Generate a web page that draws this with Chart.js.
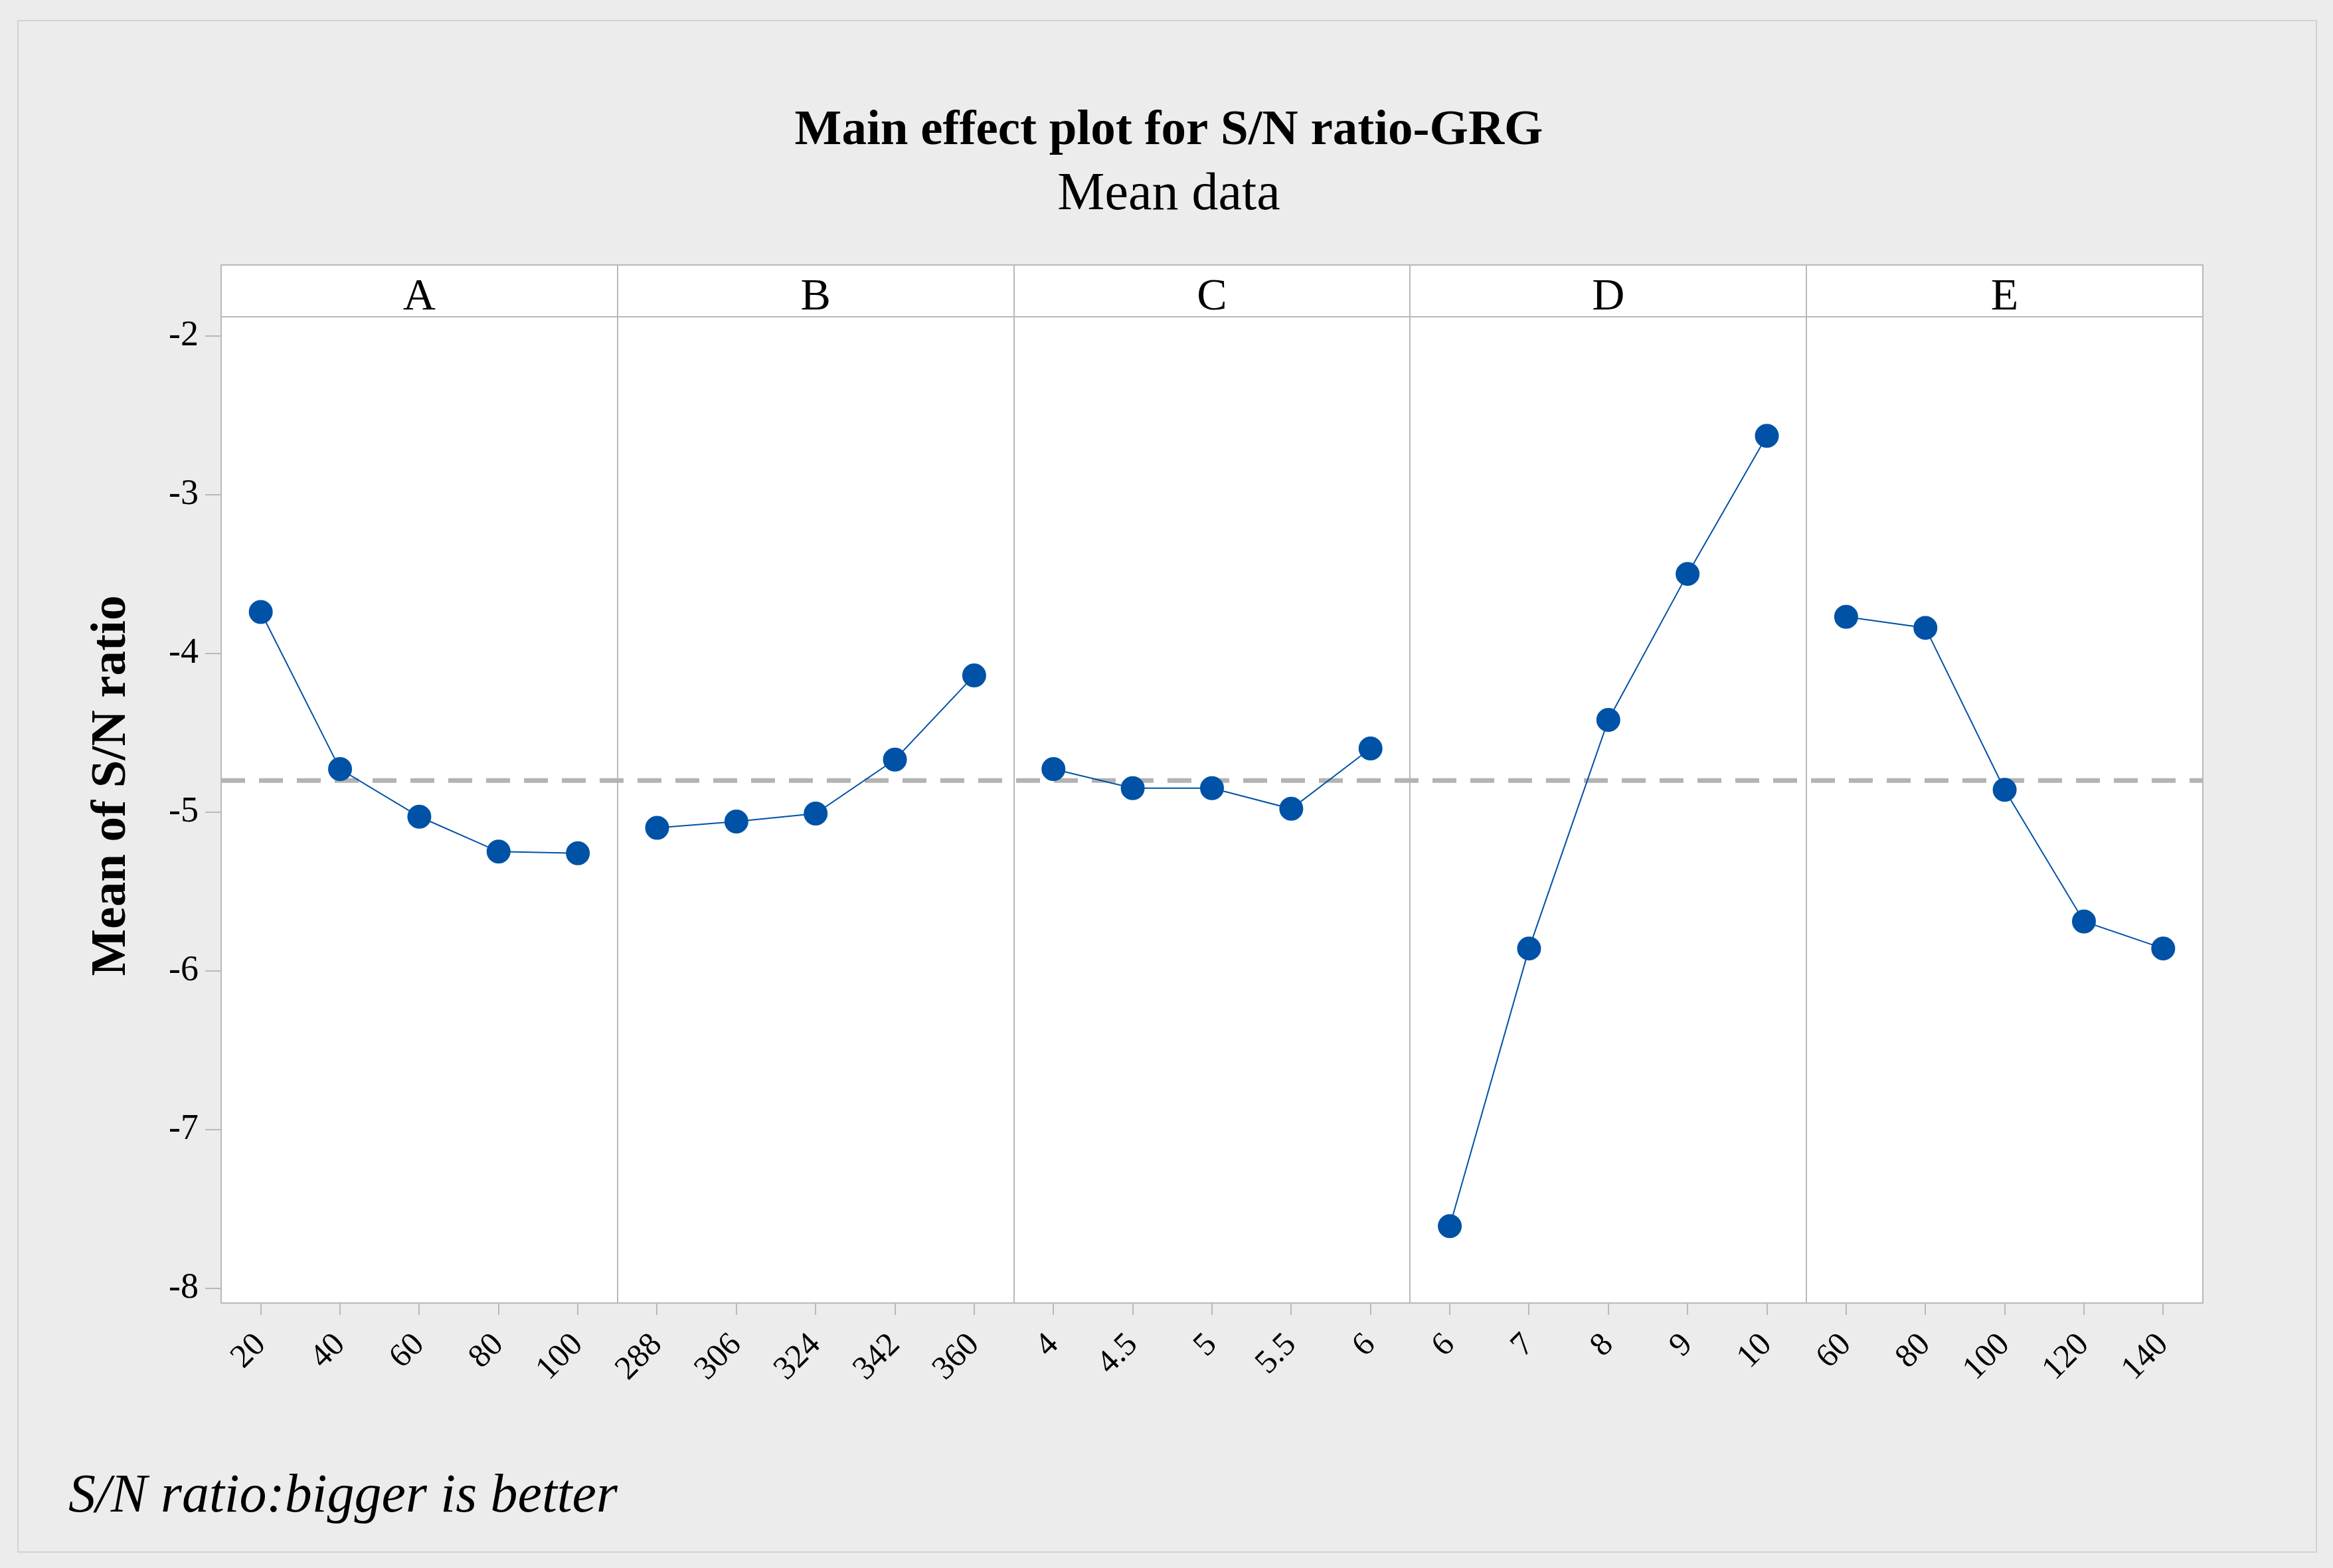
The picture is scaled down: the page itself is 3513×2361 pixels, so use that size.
<!DOCTYPE html>
<html>
<head>
<meta charset="utf-8">
<script src="https://cdn.jsdelivr.net/npm/chart.js@4/dist/chart.umd.min.js"></script>
<style>
  html, body { margin: 0; padding: 0; background: #ececec; }
  canvas { display: block; }
</style>
</head>
<body>
<canvas id="effectChart" width="3513" height="2361"></canvas>
<script>
// factors and their levels
const factors = ['A', 'B', 'C', 'D', 'E'];
const levelsA = ['20', '40', '60', '80', '100'];
const levelsB = ['288', '306', '324', '342', '360'];
const levelsC = ['4', '4.5', '5', '5.5', '6'];
const levelsD = ['6', '7', '8', '9', '10'];
const levelsE = ['60', '80', '100', '120', '140'];

// mean S/N ratio for each level
const meanA = [-3.74, -4.73, -5.03, -5.25, -5.26];
const meanB = [-5.10, -5.06, -5.01, -4.67, -4.14];
const meanC = [-4.73, -4.85, -4.85, -4.98, -4.60];
const meanD = [-7.61, -5.86, -4.42, -3.50, -2.63];
const meanE = [-3.77, -3.84, -4.86, -5.69, -5.86];

const yTicks = [-8, -7, -6, -5, -4, -3, -2];

const allLevels = [levelsA, levelsB, levelsC, levelsD, levelsE];
const allMeans = [meanA, meanB, meanC, meanD, meanE];
const xLabels = allLevels.flat();

// grand mean for the dashed reference line
const flat = allMeans.flat();
const grandMean = flat.reduce((s, v) => s + v, 0) / flat.length;

const serif = '"Liberation Serif", "Times New Roman", serif';
const blue = '#0052a6';
const grey = '#b9b9b9';
const stripHeight = 78;

const datasets = allMeans.map((vals, f) => ({
  label: factors[f],
  data: vals.map((v, i) => ({ x: f * 5 + i, y: v })),
  borderColor: blue,
  backgroundColor: blue,
  borderWidth: 2,
  pointRadius: 17,
  pointHoverRadius: 17,
  tension: 0
}));

datasets.push({
  label: 'mean',
  data: [{ x: -0.5, y: grandMean }, { x: 24.5, y: grandMean }],
  borderColor: '#b3b3b3',
  borderWidth: 7,
  borderDash: [36, 21],
  pointRadius: 0
});

const panelPlugin = {
  id: 'panels',
  beforeDraw(chart) {
    const ctx = chart.ctx;
    const a = chart.chartArea;
    ctx.save();
    ctx.fillStyle = '#ececec';
    ctx.fillRect(0, 0, chart.width, chart.height);
    ctx.strokeStyle = '#d2d2d2';
    ctx.lineWidth = 2;
    ctx.strokeRect(27, 31, 3461, 2306);
    ctx.fillStyle = '#ffffff';
    ctx.fillRect(a.left, a.top - stripHeight, a.right - a.left, a.bottom - a.top + stripHeight);
    ctx.restore();
  },
  beforeDatasetsDraw(chart) {
    const ctx = chart.ctx;
    const a = chart.chartArea;
    const x = chart.scales.x;
    const top = a.top - stripHeight;
    ctx.save();
    ctx.strokeStyle = grey;
    ctx.lineWidth = 2;
    ctx.strokeRect(a.left, top, a.right - a.left, a.bottom - top);
    ctx.beginPath();
    ctx.moveTo(a.left, a.top);
    ctx.lineTo(a.right, a.top);
    for (let f = 1; f < factors.length; f++) {
      const px = Math.round(x.getPixelForValue(f * 5 - 0.5));
      ctx.moveTo(px, top);
      ctx.lineTo(px, a.bottom);
    }
    ctx.stroke();
    ctx.fillStyle = '#000';
    ctx.font = '68px ' + serif;
    ctx.textAlign = 'center';
    ctx.textBaseline = 'middle';
    factors.forEach((name, f) => {
      const cx = x.getPixelForValue(f * 5 + 2);
      ctx.fillText(name, cx, top + stripHeight / 2 + 10);
    });
    ctx.restore();
  },
  afterDraw(chart) {
    const ctx = chart.ctx;
    ctx.save();
    ctx.fillStyle = '#000';
    ctx.textAlign = 'center';
    ctx.textBaseline = 'middle';
    ctx.font = 'bold 75px ' + serif;
    ctx.fillText('Main effect plot for S/N ratio-GRG', 1760, 198);
    ctx.font = '80px ' + serif;
    ctx.fillText('Mean data', 1760, 294);
    // y axis title
    ctx.save();
    ctx.translate(169, 1183);
    ctx.rotate(-Math.PI / 2);
    ctx.font = 'bold 75px ' + serif;
    ctx.fillText('Mean of S/N ratio', 0, 0);
    ctx.restore();
    ctx.textAlign = 'left';
    ctx.font = 'italic 82px ' + serif;
    ctx.fillText('S/N ratio:bigger is better', 103, 2254);
    ctx.restore();
  }
};

new Chart(document.getElementById('effectChart').getContext('2d'), {
  type: 'line',
  data: { datasets: datasets },
  options: {
    responsive: false,
    animation: false,
    devicePixelRatio: 1,
    layout: { padding: { left: 0, right: 196, top: 477, bottom: 0 } },
    plugins: {
      legend: { display: false },
      tooltip: { enabled: false }
    },
    scales: {
      x: {
        type: 'linear',
        min: -0.5,
        max: 24.5,
        afterBuildTicks: s => { s.ticks = xLabels.map((l, i) => ({ value: i })); },
        afterFit: s => { s.height = 399; },
        ticks: {
          autoSkip: false,
          minRotation: 45,
          maxRotation: 45,
          padding: 16,
          color: '#000',
          font: { family: serif, size: 50 },
          callback: (v, i) => xLabels[i]
        },
        grid: { drawOnChartArea: false, tickLength: 18, color: grey, lineWidth: 2 },
        border: { color: grey, width: 2 }
      },
      y: {
        min: -8.094,
        max: -1.88,
        afterBuildTicks: s => { s.ticks = yTicks.map(v => ({ value: v })); },
        afterFit: s => { s.width = 333; },
        ticks: {
          padding: 10,
          color: '#000',
          font: { family: serif, size: 54 },
          callback: v => String(v)
        },
        grid: { drawOnChartArea: false, tickLength: 24, color: grey, lineWidth: 2 },
        border: { color: grey, width: 2 }
      }
    }
  },
  plugins: [panelPlugin]
});
</script>
</body>
</html>
